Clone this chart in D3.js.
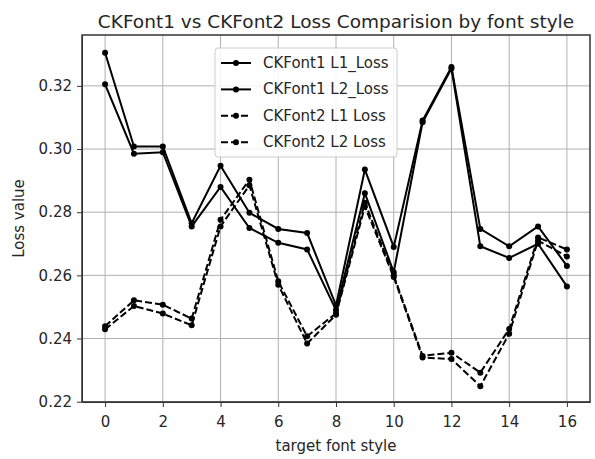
<!DOCTYPE html>
<meta charset="utf-8">
<script src="https://cdn.jsdelivr.net/npm/d3@7"></script>
<style>
body {margin: 0; background: #fff;}
text {font-family: "DejaVu Sans", sans-serif; fill: #262626;}
.grid line {stroke: #b0b0b0; stroke-width: 1;}
.axis path, .axis line {stroke: #333;}
.axis text {font-size: 15px;}
</style>
<div id="vis"></div>
<script>

// data
var fontStyles = d3.range(0, 17);
var font1L1 = [0.3305, 0.3008, 0.3008, 0.2765, 0.2947, 0.2798, 0.2747, 0.2734, 0.2505, 0.2935, 0.2690, 0.3090, 0.3260, 0.2747, 0.2692, 0.2755, 0.2630];
var font1L2 = [0.3205, 0.2985, 0.2990, 0.2755, 0.2880, 0.2750, 0.2703, 0.2682, 0.2490, 0.2860, 0.2610, 0.3085, 0.3255, 0.2692, 0.2655, 0.2700, 0.2565];
var font2L1 = [0.2439, 0.2521, 0.2507, 0.2463, 0.2776, 0.2903, 0.2581, 0.2407, 0.2480, 0.2830, 0.2600, 0.2345, 0.2355, 0.2292, 0.2430, 0.2720, 0.2682];
var font2L2 = [0.2429, 0.2503, 0.2479, 0.2442, 0.2755, 0.2885, 0.2570, 0.2384, 0.2475, 0.2818, 0.2595, 0.2340, 0.2335, 0.2249, 0.2415, 0.2710, 0.2660];
var xTicks = [0, 2, 4, 6, 8, 10, 12, 14, 16];
var yTicks = [0.22, 0.24, 0.26, 0.28, 0.30, 0.32];

var series = [
  {name: "CKFont1 L1_Loss", values: font1L1, dash: null},
  {name: "CKFont1 L2_Loss", values: font1L2, dash: null},
  {name: "CKFont2 L1 Loss", values: font2L1, dash: "7,3"},
  {name: "CKFont2 L2 Loss", values: font2L2, dash: "7,3"}
];

var w = 595, h = 459;
var margin = {top: 35, right: 5, bottom: 57, left: 82};
var width = w - margin.left - margin.right,
    height = h - margin.top - margin.bottom;

var svg = d3.select("#vis").append("svg")
    .attr("width", w)
    .attr("height", h);

var g = svg.append("g")
    .attr("transform", "translate(" + margin.left + "," + margin.top + ")");

var x = d3.scaleLinear().domain([-0.8, 16.8]).range([0, width]);
var y = d3.scaleLinear().domain([0.2199, 0.3361]).range([height, 0]);

// grid
g.append("g").attr("class", "grid")
  .selectAll("line").data(xTicks).enter().append("line")
    .attr("x1", function(d) { return x(d); })
    .attr("x2", function(d) { return x(d); })
    .attr("y1", 0).attr("y2", height);
g.append("g").attr("class", "grid")
  .selectAll("line").data(yTicks).enter().append("line")
    .attr("y1", function(d) { return y(d); })
    .attr("y2", function(d) { return y(d); })
    .attr("x1", 0).attr("x2", width);

// lines
var line = d3.line()
    .x(function(d, i) { return x(fontStyles[i]); })
    .y(function(d) { return y(d); });

series.forEach(function(s) {
  g.append("path")
    .datum(s.values)
    .attr("fill", "none")
    .attr("stroke", "#000")
    .attr("stroke-width", 2)
    .attr("stroke-dasharray", s.dash)
    .attr("d", line);
  g.selectAll(null)
    .data(s.values)
    .enter().append("circle")
      .attr("cx", function(d, i) { return x(fontStyles[i]); })
      .attr("cy", function(d) { return y(d); })
      .attr("r", 3)
      .attr("fill", "#000");
});

// axes
g.append("g")
    .attr("class", "axis")
    .attr("transform", "translate(0," + height + ")")
    .call(d3.axisBottom(x).tickValues(xTicks).tickSize(5).tickPadding(9).tickSizeOuter(0));
g.append("g")
    .attr("class", "axis")
    .call(d3.axisLeft(y).tickValues(yTicks).tickFormat(d3.format(".2f")).tickSize(5).tickPadding(5).tickSizeOuter(0));

// frame
g.append("rect")
    .attr("width", width).attr("height", height)
    .attr("fill", "none").attr("stroke", "#333").attr("stroke-width", 1.5);

// titles
svg.append("text")
    .attr("x", margin.left + width / 2).attr("y", 28)
    .attr("text-anchor", "middle")
    .style("font-size", "18.5px")
    .text("CKFont1 vs CKFont2 Loss Comparision by font style");
svg.append("text")
    .attr("x", margin.left + width / 2).attr("y", 451)
    .attr("text-anchor", "middle")
    .style("font-size", "15px")
    .text("target font style");
svg.append("text")
    .attr("transform", "translate(24," + (margin.top + height / 2) + ") rotate(-90)")
    .attr("text-anchor", "middle")
    .style("font-size", "15px")
    .text("Loss value");

// legend
var lg = svg.append("g").attr("transform", "translate(215,48)");
lg.append("rect")
    .attr("width", 182).attr("height", 109).attr("rx", 3)
    .attr("fill", "#fff").attr("fill-opacity", 0.85)
    .attr("stroke", "#ccc");
var item = lg.selectAll(".item").data(series).enter().append("g")
    .attr("transform", function(d, i) { return "translate(0," + (15 + i * 26.4) + ")"; });
item.append("line")
    .attr("x1", 6).attr("x2", 36)
    .attr("stroke", "#000").attr("stroke-width", 2)
    .attr("stroke-dasharray", function(d) { return d.dash; });
item.append("circle").attr("cx", 21).attr("r", 3).attr("fill", "#000");
item.append("text")
    .attr("x", 48).attr("y", 5)
    .style("font-size", "15px")
    .text(function(d) { return d.name; });

</script>
